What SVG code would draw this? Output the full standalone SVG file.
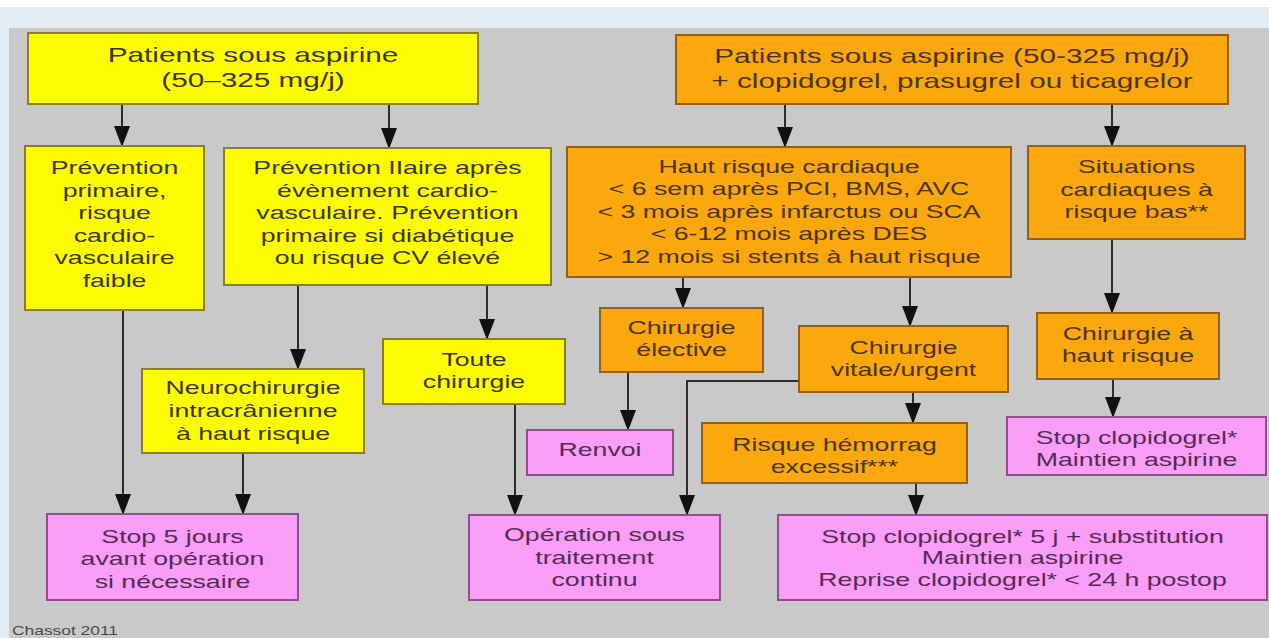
<svg xmlns="http://www.w3.org/2000/svg" width="1269" height="638" viewBox="0 0 1269 638">
<defs>
<marker id="ah" markerUnits="userSpaceOnUse" markerWidth="22" markerHeight="16" refX="20" refY="8" orient="auto">
<path d="M0,0 L21,8 L0,16 z" fill="#111"/>
</marker>
<style>
.y{fill:#fdfc02;stroke:#8a7d2a;stroke-width:2}
.o{fill:#fba70e;stroke:#93601a;stroke-width:2}
.p{fill:#f99ef6;stroke:#8e4f8c;stroke-width:2}
text{font-family:"Liberation Sans",Arial,sans-serif;text-anchor:middle;font-size:18.4px}
.ty{fill:#3a3614}
.to{fill:#4a3412}
.tp{fill:#552a55}
.big{font-size:20.5px}
.c line,.c polyline{stroke:#2e2e2e;stroke-width:2;fill:none;marker-end:url(#ah)}
</style>
</defs>
<rect x="0" y="0" width="1269" height="638" fill="#e4ecf4"/>
<rect x="0" y="0" width="1269" height="7" fill="#ffffff"/>
<rect x="9" y="28" width="1260" height="610" fill="#c9c9c9"/>

<g class="c" id="connectors">
<line x1="122" y1="104" x2="122" y2="146"/>
<line x1="389" y1="104" x2="389" y2="148"/>
<line x1="785" y1="104" x2="785" y2="147"/>
<line x1="1112" y1="104" x2="1112" y2="146"/>
<line x1="123" y1="310" x2="123" y2="514"/>
<line x1="298" y1="285" x2="298" y2="369"/>
<line x1="487" y1="285" x2="487" y2="339"/>
<line x1="243" y1="453" x2="243" y2="514"/>
<line x1="515" y1="404" x2="515" y2="515"/>
<line x1="683" y1="277" x2="683" y2="308"/>
<line x1="910" y1="277" x2="910" y2="326"/>
<line x1="628" y1="372" x2="628" y2="430"/>
<polyline points="799,381 687,381 687,515"/>
<line x1="913" y1="392" x2="913" y2="423"/>
<line x1="916" y1="483" x2="916" y2="515"/>
<line x1="1112" y1="239" x2="1112" y2="313"/>
<line x1="1113" y1="379" x2="1113" y2="417"/>
</g>

<g id="nA">
<rect class="y" x="28" y="33" width="450" height="71"/>
<text class="ty big" transform="translate(253 0) scale(1.45 1)"><tspan x="0" y="62">Patients sous aspirine</tspan><tspan x="0" y="87">(50–325 mg/j)</tspan></text>
</g>
<g id="nB">
<rect class="y" x="25" y="146" width="179" height="164"/>
<text class="ty" transform="translate(114.5 0) scale(1.45 1)"><tspan x="0" y="174">Prévention</tspan><tspan x="0" y="196.6">primaire,</tspan><tspan x="0" y="219.2">risque</tspan><tspan x="0" y="241.8">cardio-</tspan><tspan x="0" y="264.4">vasculaire</tspan><tspan x="0" y="287">faible</tspan></text>
</g>
<g id="nC">
<rect class="y" x="224" y="148" width="327" height="137"/>
<text class="ty" transform="translate(387.5 0) scale(1.45 1)"><tspan x="0" y="174">Prévention IIaire après</tspan><tspan x="0" y="196.6">évènement cardio-</tspan><tspan x="0" y="219.2">vasculaire. Prévention</tspan><tspan x="0" y="241.8">primaire si diabétique</tspan><tspan x="0" y="264.4">ou risque CV élevé</tspan></text>
</g>
<g id="nD">
<rect class="o" x="676" y="35" width="552" height="69"/>
<text class="to big" transform="translate(952 0) scale(1.45 1)"><tspan x="0" y="63">Patients sous aspirine (50-325 mg/j)</tspan><tspan x="0" y="88">+ clopidogrel, prasugrel ou ticagrelor</tspan></text>
</g>
<g id="nE">
<rect class="o" x="567" y="147" width="444" height="130"/>
<text class="to" transform="translate(789 0) scale(1.45 1)"><tspan x="0" y="173">Haut risque cardiaque</tspan><tspan x="0" y="195.5">&lt; 6 sem après PCI, BMS, AVC</tspan><tspan x="0" y="218">&lt; 3 mois après infarctus ou SCA</tspan><tspan x="0" y="240.5">&lt; 6-12 mois après DES</tspan><tspan x="0" y="263">&gt; 12 mois si stents à haut risque</tspan></text>
</g>
<g id="nF">
<rect class="o" x="1028" y="146" width="217" height="93"/>
<text class="to" transform="translate(1136.5 0) scale(1.45 1)"><tspan x="0" y="173.5">Situations</tspan><tspan x="0" y="196">cardiaques à</tspan><tspan x="0" y="218.5">risque bas**</tspan></text>
</g>
<g id="nG">
<rect class="y" x="142" y="369" width="222" height="84"/>
<text class="ty" transform="translate(253 0) scale(1.45 1)"><tspan x="0" y="394">Neurochirurgie</tspan><tspan x="0" y="417">intracrânienne</tspan><tspan x="0" y="440">à haut risque</tspan></text>
</g>
<g id="nH">
<rect class="y" x="383" y="339" width="182" height="65"/>
<text class="ty" transform="translate(474 0) scale(1.45 1)"><tspan x="0" y="366">Toute</tspan><tspan x="0" y="388">chirurgie</tspan></text>
</g>
<g id="nI">
<rect class="o" x="600" y="308" width="163" height="64"/>
<text class="to" transform="translate(681.5 0) scale(1.45 1)"><tspan x="0" y="334">Chirurgie</tspan><tspan x="0" y="356">élective</tspan></text>
</g>
<g id="nJ">
<rect class="o" x="799" y="326" width="209" height="66"/>
<text class="to" transform="translate(903.5 0) scale(1.45 1)"><tspan x="0" y="354">Chirurgie</tspan><tspan x="0" y="376">vitale/urgent</tspan></text>
</g>
<g id="nK">
<rect class="o" x="1037" y="313" width="182" height="66"/>
<text class="to" transform="translate(1128 0) scale(1.45 1)"><tspan x="0" y="340">Chirurgie à</tspan><tspan x="0" y="362">haut risque</tspan></text>
</g>
<g id="nL">
<rect class="p" x="527" y="430" width="146" height="45"/>
<text class="tp" transform="translate(600 0) scale(1.45 1)"><tspan x="0" y="456">Renvoi</tspan></text>
</g>
<g id="nM">
<rect class="o" x="702" y="423" width="265" height="60"/>
<text class="to" transform="translate(834.5 0) scale(1.45 1)"><tspan x="0" y="451">Risque hémorrag</tspan><tspan x="0" y="473">excessif***</tspan></text>
</g>
<g id="nN">
<rect class="p" x="1007" y="417" width="259" height="58"/>
<text class="tp" transform="translate(1136.5 0) scale(1.45 1)"><tspan x="0" y="444">Stop clopidogrel*</tspan><tspan x="0" y="466">Maintien aspirine</tspan></text>
</g>
<g id="nO">
<rect class="p" x="47" y="514" width="251" height="86"/>
<text class="tp" transform="translate(172.5 0) scale(1.45 1)"><tspan x="0" y="543">Stop 5 jours</tspan><tspan x="0" y="565">avant opération</tspan><tspan x="0" y="588">si nécessaire</tspan></text>
</g>
<g id="nP">
<rect class="p" x="469" y="515" width="251" height="85"/>
<text class="tp" transform="translate(594.5 0) scale(1.45 1)"><tspan x="0" y="541">Opération sous</tspan><tspan x="0" y="564">traitement</tspan><tspan x="0" y="586">continu</tspan></text>
</g>
<g id="nQ">
<rect class="p" x="778" y="515" width="489" height="85"/>
<text class="tp" transform="translate(1022.5 0) scale(1.45 1)"><tspan x="0" y="543">Stop clopidogrel* 5 j + substitution</tspan><tspan x="0" y="564">Maintien aspirine</tspan><tspan x="0" y="586">Reprise clopidogrel* &lt; 24 h postop</tspan></text>
</g>
<text x="12" y="635" style="text-anchor:start;font-size:12px;fill:#4a4a4a" transform="translate(12 0) scale(1.45 1) translate(-12 0)">Chassot 2011</text>
</svg>
